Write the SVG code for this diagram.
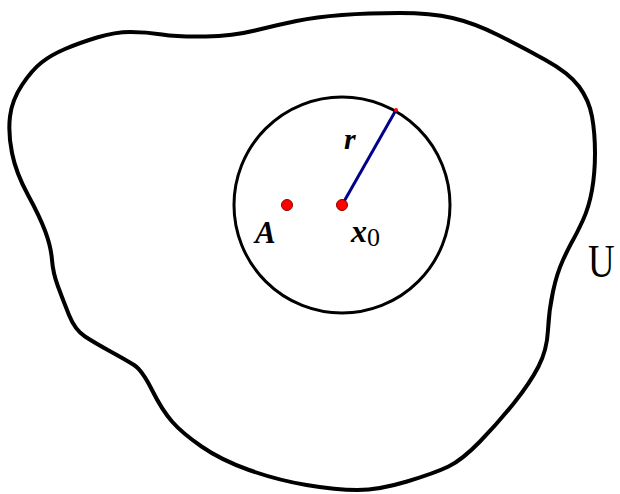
<svg xmlns="http://www.w3.org/2000/svg" width="620" height="494" viewBox="0 0 620 494">
<style>
.lbl{font-family:"Liberation Serif","Times New Roman",serif;fill:#000}
.it{font-style:italic;font-weight:bold}
.dot{fill:#ff0000;stroke:#8b0000;stroke-width:1}
</style>
<rect width="620" height="494" fill="#fff"/>
<g id="region-U">
<path d="M12,153 Q8,133 10,116.5 Q12,100 22,85 Q32,70 41.5,62.5 Q51,55 65,49 Q79,43 97,37.5 Q115,32 130.5,32 Q146,32 162,34.5 Q178,37 205.5,36.5 Q233,36 255,30.5 Q277,25 296.5,21 Q316,17 342,15 Q368,13 399.5,13 Q431,13 452.5,18 Q474,23 498,35 Q522,47 545.5,60 Q569,73 579,86.5 Q589,100 592,116.5 Q595,133 595,153 Q595,173 592,190 Q589,207 583,220 Q577,233 573,240 Q569,247 563,260 Q557,273 553,291.5 Q549,310 548,330 Q547,350 538.5,366.5 Q530,383 514,403 Q498,423 480,441.5 Q462,460 448.5,466.5 Q435,473 407,481.5 Q379,490 357.5,490 Q336,490 306.5,485 Q277,480 249,470 Q221,460 201.5,446.5 Q182,433 172,421.5 Q162,410 152,390 Q142,370 134,365 Q126,360 110.5,351.5 Q95,343 85,336.5 Q75,330 69,315 Q63,300 58,286.5 Q53,273 52,260 Q51,247 45.5,232 Q40,217 28,195 Q16,173 12,153 Z" fill="none" stroke="#000" stroke-width="4" stroke-linejoin="round"/>
<text class="lbl" transform="translate(588,277) scale(0.8,1)" x="0" y="0" font-size="46">U</text>
</g>
<g id="ball">
<circle cx="342" cy="205" r="108" fill="none" stroke="#000" stroke-width="3"/>
</g>
<g id="connectors">
<line x1="342" y1="205" x2="396" y2="110" stroke="#00008b" stroke-width="3"/>
<circle cx="396" cy="110" r="2" fill="#ff0000"/>
<text class="lbl it" x="344" y="149" font-size="30">r</text>
</g>
<g id="point-A">
<circle class="dot" cx="287" cy="205" r="5.5"/>
<text class="lbl it" x="255" y="243" font-size="31">A</text>
</g>
<g id="point-x0">
<circle class="dot" cx="342" cy="205" r="5.5"/>
<text class="lbl" x="351" y="242" font-size="32"><tspan class="it">x</tspan><tspan font-size="26" dy="4">0</tspan></text>
</g>
</svg>
